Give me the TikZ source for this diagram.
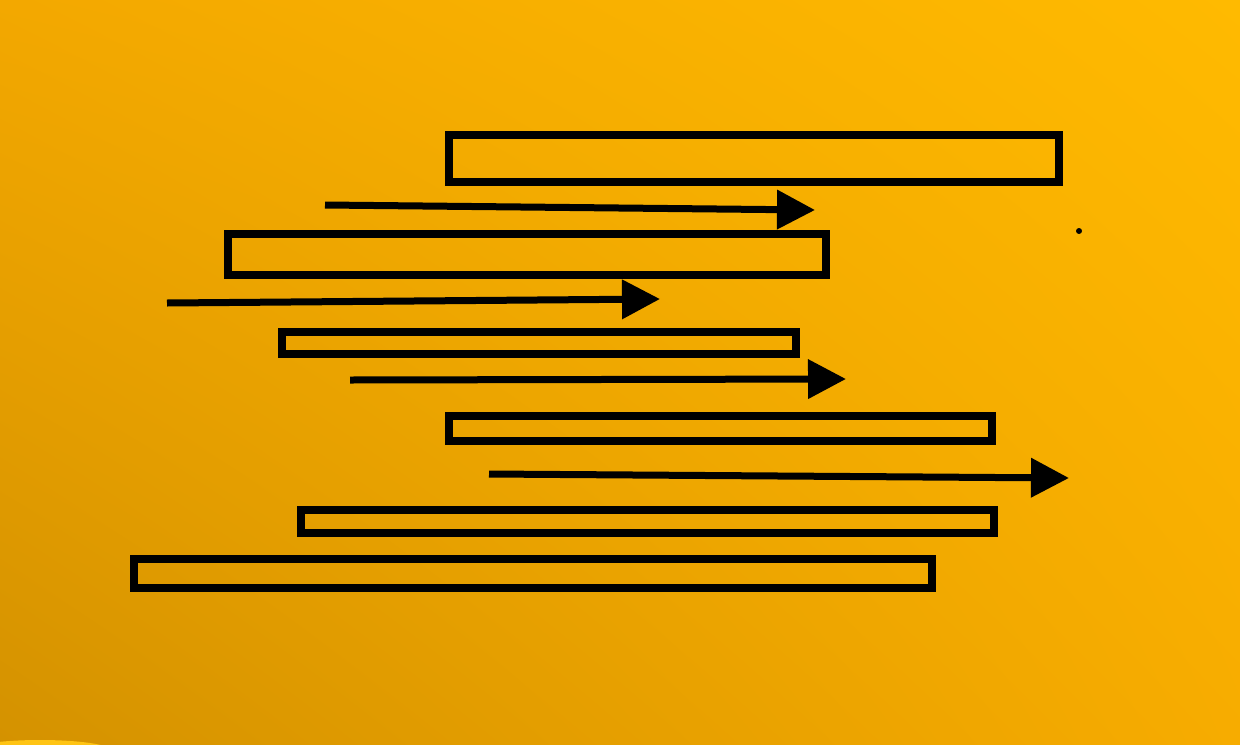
\documentclass[tikz,border=0pt]{standalone}
\usetikzlibrary{arrows.meta,shadings}
\definecolor{bgUL}{RGB}{243,168,0}
\definecolor{bgUR}{RGB}{255,186,0}
\definecolor{bgLL}{RGB}{212,146,0}
\definecolor{bgLR}{RGB}{247,172,0}
\definecolor{glow}{RGB}{255,196,20}
\begin{document}
\begin{tikzpicture}[x=0.5pt,y=-0.5pt,
  barbox/.style={draw=black,line width=4.2pt,line join=miter},
  flow/.style={draw=black,line width=3.5pt,-{Triangle[length=19pt,width=19pt]}}]
\useasboundingbox (0,0) rectangle (1240,744);
\shade[upper left=bgUL,upper right=bgUR,lower left=bgLL,lower right=bgLR] (0,0) rectangle (1240,744);
\begin{scope}
\clip (0,0) rectangle (1240,744);
\fill[glow] (40,750) ellipse [x radius=70, y radius=10];
\end{scope}
% bars
\draw[barbox] (449,135) rectangle (1059,182);
\draw[barbox] (228,234) rectangle (826,275);
\draw[barbox] (282,332) rectangle (796,354);
\draw[barbox] (449,416) rectangle (992,441);
\draw[barbox] (301,510) rectangle (994,533);
\draw[barbox] (134,559) rectangle (932,588);
% arrows
\coordinate (a1s) at (325,205); \coordinate (a1e) at (815,210);
\coordinate (a2s) at (167,303); \coordinate (a2e) at (660,299);
\coordinate (a3s) at (350,380); \coordinate (a3e) at (846,379);
\coordinate (a4s) at (489,474); \coordinate (a4e) at (1069,478);
\draw[flow] (a1s) -- (a1e);
\draw[flow] (a2s) -- (a2e);
\draw[flow] (a3s) -- (a3e);
\draw[flow] (a4s) -- (a4e);
\fill[black] (1079,231) circle (3);
\end{tikzpicture}
\end{document}
